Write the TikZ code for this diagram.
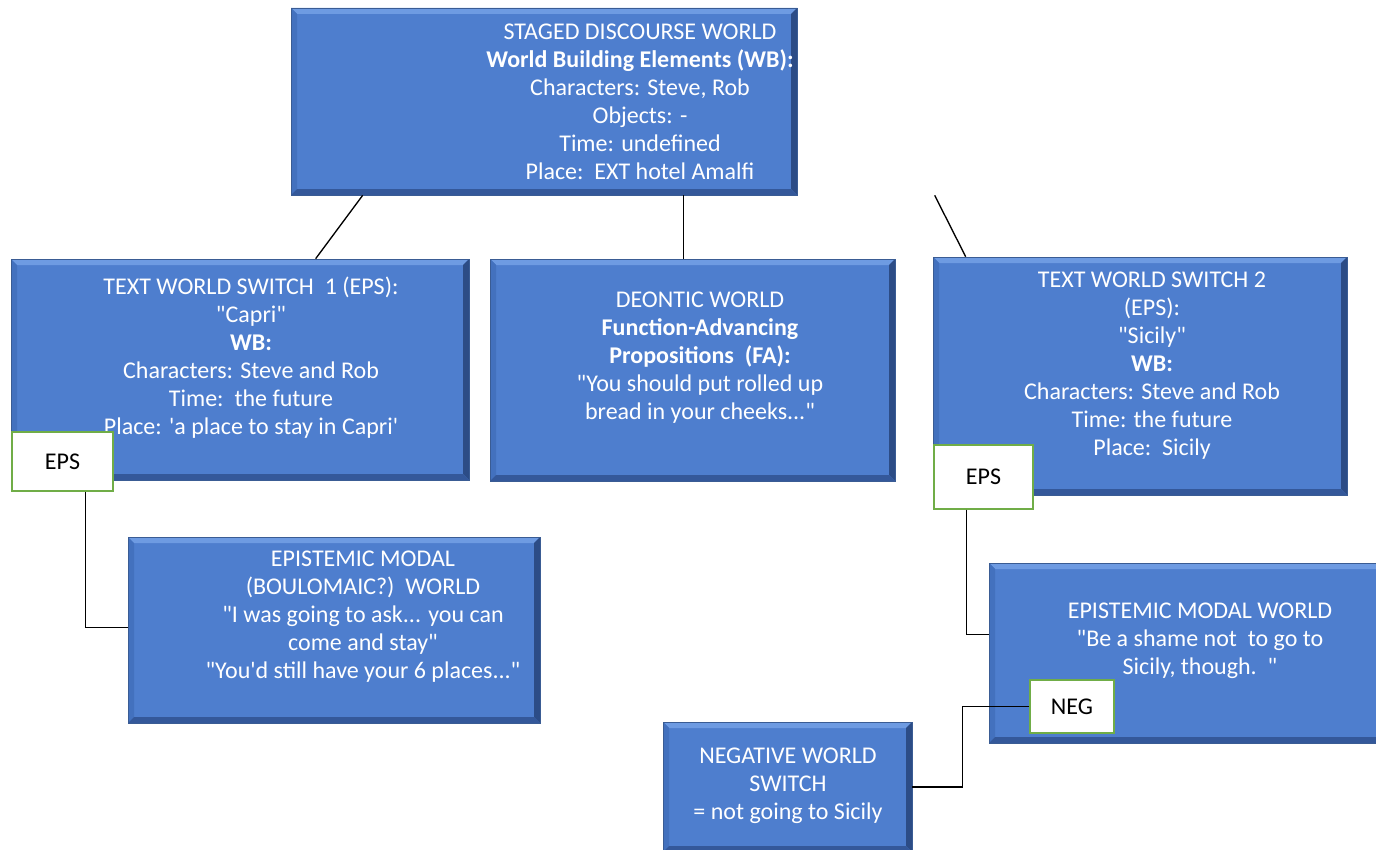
\documentclass[tikz,border=0pt]{standalone}
\usepackage{fontspec}
\setmainfont{Carlito}[Ligatures=TeXOff]
\usetikzlibrary{fit,calc}

\definecolor{wfill}{HTML}{4E7ECE}
\definecolor{wtop}{HTML}{6E9BE2}
\definecolor{wleft}{HTML}{4371BE}
\definecolor{wright}{HTML}{2C4C86}
\definecolor{wbottom}{HTML}{34589A}
\definecolor{wedge}{HTML}{3A5C94}
\definecolor{tagedge}{HTML}{70AD47}

\newcommand{\boxfont}{\fontsize{18}{21}\selectfont}

\tikzset{
  world/.style={rectangle, inner sep=0pt, fill=wfill, draw=wedge, line width=0.5pt,
    path picture={
      \fill[wtop] (path picture bounding box.north west) -- (path picture bounding box.north east)
        -- ([xshift=-4.5pt,yshift=-4.5pt]path picture bounding box.north east)
        -- ([xshift=4.5pt,yshift=-4.5pt]path picture bounding box.north west) -- cycle;
      \fill[wleft] (path picture bounding box.north west)
        -- ([xshift=4.5pt,yshift=-4.5pt]path picture bounding box.north west)
        -- ([xshift=4.5pt,yshift=4.5pt]path picture bounding box.south west)
        -- (path picture bounding box.south west) -- cycle;
      \fill[wright] (path picture bounding box.north east)
        -- ([xshift=-4.5pt,yshift=-4.5pt]path picture bounding box.north east)
        -- ([xshift=-4.5pt,yshift=4.5pt]path picture bounding box.south east)
        -- (path picture bounding box.south east) -- cycle;
      \fill[wbottom] (path picture bounding box.south west)
        -- ([xshift=4.5pt,yshift=4.5pt]path picture bounding box.south west)
        -- ([xshift=-4.5pt,yshift=4.5pt]path picture bounding box.south east)
        -- (path picture bounding box.south east) -- cycle;
    }},
  wtext/.style={align=center, text=white, inner sep=0pt, font=\boxfont},
  tag/.style={rectangle, inner sep=0pt, fill=white, draw=tagedge, line width=1.1pt},
  tagtext/.style={inner sep=0pt, font=\boxfont},
  link/.style={draw=black, line width=1pt},
}

\begin{document}
\begin{tikzpicture}[x=0.75pt,y=-0.75pt]
\useasboundingbox[fill=white] (0,0) rectangle (1376,849);

% world boxes
\node[world, fit={(291,8) (797,195)}] (top) {};
\node[world, fit={(11,259) (469,480)}] (tws1) {};
\node[world, fit={(490,259) (895,481)}] (deon) {};
\node[world, fit={(933,257) (1347,495)}] (tws2) {};
\node[world, fit={(128,537) (540,723)}] (emw1) {};
\node[world, fit={(989,563) (1382,743)}] (emw2) {};
\node[world, fit={(663,722) (912,852)}] (nws) {};

% box texts
\node[wtext] (toptxt) at (640,102) {STAGED DISCOURSE WORLD\\
  \textbf{World Building Elements (WB):}\\
  Characters: Steve, Rob\\ Objects: -\\ Time: undefined\\ Place:\ \ EXT hotel Amalfi};
\node[wtext] (tws1txt) at (251,358) {TEXT WORLD SWITCH\ \ 1 (EPS):\\ "Capri"\\ \textbf{WB:}\\
  Characters: Steve and Rob\\ Time:\ \ the future\\ Place: 'a place to stay in Capri'};
\node[wtext] (deontxt) at (700,358) {DEONTIC WORLD\\ \textbf{Function-Advancing}\\
  \textbf{Propositions\ \ (FA):}\\ "You should put rolled up\\ bread in your cheeks..."};
\node[wtext] (tws2txt) at (1152,366) {TEXT WORLD SWITCH 2\\ (EPS):\\ "Sicily"\\ \textbf{WB:}\\
  Characters: Steve and Rob\\ Time: the future\\ Place:\ \ Sicily};
\node[wtext] (emw1txt) at (363,617) {EPISTEMIC MODAL\\ (BOULOMAIC?)\ \ WORLD\\
  "I was going to ask... you can\\ come and stay"\\ "You'd still have your 6 places..."};
\node[wtext] (emw2txt) at (1200,641) {EPISTEMIC MODAL WORLD\\
  "Be a shame not\ \ to go to\\ Sicily, though.\ \ "};
\node[wtext] (nwstxt) at (788,786) {NEGATIVE WORLD\\ SWITCH\\ = not going to Sicily};

% connectors from the staged discourse world
\coordinate (tws2link) at ($(top.south west)+(644,0)$);
\draw[link] ($(top.south west)+(72,0)$) -- ($(tws1.north west)+(305,0)$);
\draw[link] ($(top.south west)+(393,0)$) -- ($(deon.north west)+(194,0)$);
\draw[link] (tws2link) -- ($(tws2.north west)+(33,0)$);

% switch tags
\node[tag, fit={(12,432) (113,491)}] (eps1) {};
\node[tagtext] (eps1txt) at (eps1.center) {EPS};
\node[tag, fit={(934,445) (1033,509)}] (eps2) {};
\node[tagtext] (eps2txt) at (eps2.center) {EPS};
\node[tag, fit={(1030,680) (1114,733)}] (neg) {};
\node[tagtext] (negtxt) at (neg.center) {NEG};

\draw[link] ($(eps1.south west)+(74,0)$) |- ($(emw1.north west)+(0,91)$);
\draw[link] ($(eps2.south west)+(33,0)$) |- ($(emw2.north west)+(0,72)$);
\draw[link] (neg.west) -- ++(-67,0) |- (nws.east);
\end{tikzpicture}
\end{document}
